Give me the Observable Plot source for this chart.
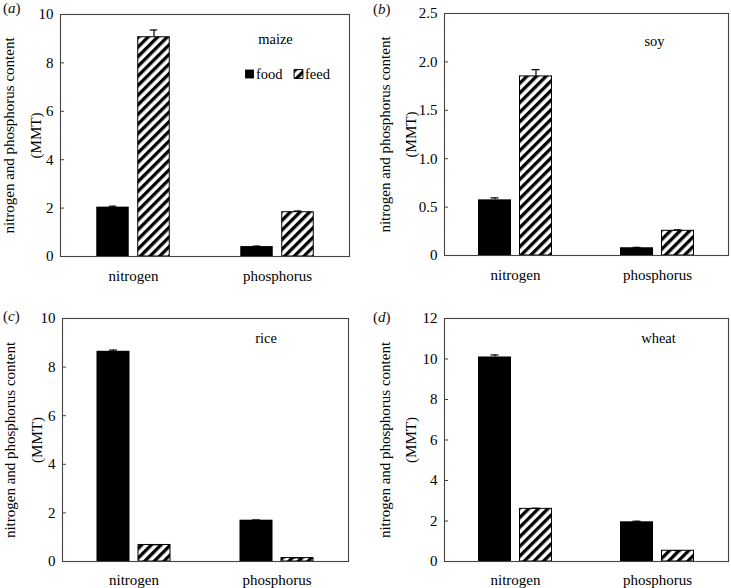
<!DOCTYPE html>
<html><head><meta charset="utf-8">
<script src="https://cdn.jsdelivr.net/npm/d3@7"></script>
<script src="https://cdn.jsdelivr.net/npm/@observablehq/plot@0.6"></script>
<style>
body{margin:0;background:#fff;}
#root{position:relative;width:731px;height:588px;font-family:"Liberation Serif",serif;color:#000;}
#root svg{position:absolute;font-family:"Liberation Serif",serif !important;}
#root svg text{font-family:"Liberation Serif",serif;}
.tag{position:absolute;font-size:15px;line-height:1;color:#111;font-family:"Liberation Serif",serif;}
</style></head><body><div id="root"></div>
<script>
// ---- data ----
const nutrients = ["nitrogen", "phosphorus"];
const uses = ["food", "feed"];
const crops = ["maize", "soy", "rice", "wheat"];
const tags = ["a", "b", "c", "d"];
const yTitle = "nitrogen and phosphorus content\n(MMT)";

const maizeFood = [2.04, 0.41];
const maizeFeed = [9.06, 1.83];
const maizeFoodErr = [0.04, 0.02];
const maizeFeedErr = [0.30, 0.05];

const soyFood = [0.575, 0.08];
const soyFeed = [1.85, 0.255];
const soyFoodErr = [0.02, 0.004];
const soyFeedErr = [0.07, 0.01];

const riceFood = [8.65, 1.70];
const riceFeed = [0.68, 0.14];
const riceFoodErr = [0.05, 0.01];
const riceFeedErr = [0.01, 0.01];

const wheatFood = [10.1, 1.96];
const wheatFeed = [2.6, 0.53];
const wheatFoodErr = [0.1, 0.03];
const wheatFeedErr = [0.03, 0.01];

const maizeTicks = [0, 2, 4, 6, 8, 10];
const soyTicks = [0, 0.5, 1.0, 1.5, 2.0, 2.5];
const riceTicks = [0, 2, 4, 6, 8, 10];
const wheatTicks = [0, 2, 4, 6, 8, 10, 12];

// ---- layout ----
const FONT = "'Liberation Serif', 'Times New Roman', serif";
const boxes = [
  {left: 0,   top: 0,   width: 365, height: 290, ml: 60, mr: 16, mt: 14, mb: 34, titleDx: -41.5, labelDy: 25, labelDx: -2, xPad: 14},
  {left: 370, top: 0,   width: 361, height: 290, ml: 74, mr: 3,  mt: 13, mb: 35, titleDx: -50, labelDy: 28, labelDx: -3, xPad: 14},
  {left: 0,   top: 290, width: 365, height: 298, ml: 62, mr: 17, mt: 28, mb: 27, titleDx: -42.5, labelDy: 20, labelDx: -11, xPad: 13},
  {left: 370, top: 290, width: 361, height: 298, ml: 74, mr: 3,  mt: 28, mb: 27, titleDx: -50, labelDy: 20, labelDx: 1, xPad: 13}
];
const tagPos = [{left: 3, top: 1}, {left: 373, top: 2}, {left: 3, top: 309}, {left: 373, top: 310}];

const panels = [
  {food: maizeFood, feed: maizeFeed, foodErr: maizeFoodErr, feedErr: maizeFeedErr, ticks: maizeTicks},
  {food: soyFood, feed: soyFeed, foodErr: soyFoodErr, feedErr: soyFeedErr, ticks: soyTicks},
  {food: riceFood, feed: riceFeed, foodErr: riceFoodErr, feedErr: riceFeedErr, ticks: riceTicks},
  {food: wheatFood, feed: wheatFeed, foodErr: wheatFoodErr, feedErr: wheatFeedErr, ticks: wheatTicks}
];

const root = document.getElementById("root");
const BW = 33, GAP = 4, CAP = 4;

panels.forEach((p, k) => {
  const box = boxes[k];
  const crop = crops[k];
  const rows = [];
  nutrients.forEach((n, i) => {
    rows.push({nutrient: n, use: uses[0], value: p.food[i], err: p.foodErr[i]});
    rows.push({nutrient: n, use: uses[1], value: p.feed[i], err: p.feedErr[i]});
  });
  const foodRows = rows.filter(d => d.use === "food");
  const feedRows = rows.filter(d => d.use === "feed");
  const innerW = box.width - box.ml - box.mr;
  const h = innerW / nutrients.length / 2; // half band width
  const off = GAP + BW / 2;
  const hatchId = "hatch" + k;
  const fmt = d => d === 0 ? "0" : (p.ticks[p.ticks.length - 1] < 5 ? d.toFixed(1) : String(d));

  const marks = [
    Plot.barY(foodRows, {x: "nutrient", y: "value", fill: "#000", insetLeft: h - GAP - BW, insetRight: h + GAP}),
    Plot.barY(feedRows, {x: "nutrient", y: "value", fill: `url(#${hatchId})`, stroke: "#000", strokeWidth: 1, insetLeft: h + GAP + 0.5, insetRight: h - GAP - BW + 0.5}),
    Plot.ruleX(foodRows, {x: "nutrient", y1: "value", y2: d => d.value + d.err, dx: -off, stroke: "#000", strokeWidth: 1.2}),
    Plot.ruleX(feedRows, {x: "nutrient", y1: "value", y2: d => d.value + d.err, dx: off, stroke: "#000", strokeWidth: 1.2}),
    Plot.tickY(foodRows, {x: "nutrient", y: d => d.value + d.err, insetLeft: h - off - CAP, insetRight: h + off - CAP, stroke: "#000", strokeWidth: 1.2}),
    Plot.tickY(feedRows, {x: "nutrient", y: d => d.value + d.err, insetLeft: h + off - CAP, insetRight: h - off - CAP, stroke: "#000", strokeWidth: 1.2}),
    Plot.tickY(p.ticks, {y: d => d, insetRight: innerW - 4, stroke: "#444"}),
    Plot.frame({stroke: "#444", strokeWidth: 1.1}),
    Plot.axisY({ticks: p.ticks, tickSize: 0, tickPadding: 7, tickFormat: fmt, fontSize: 15, fontFamily: FONT, label: null}),
    Plot.axisX({tickSize: 0, tickPadding: box.xPad, fontSize: 15, fontFamily: FONT, label: null}),
    Plot.text([yTitle], {frameAnchor: "left", rotate: -90, dx: box.titleDx, lineHeight: 1.75, fontSize: 15, fontFamily: FONT, textAnchor: "middle", lineAnchor: "middle"}),
    Plot.text([crop], {x: () => "phosphorus", frameAnchor: "top", dy: box.labelDy, dx: box.labelDx, fontSize: 14.5, fontFamily: FONT, lineAnchor: "middle"})
  ];
  if (k === 0) {
    // legend
    const legendDx = [184.5, 233.5];
    uses.forEach((u, j) => {
      marks.push(Plot.dot([u], {frameAnchor: "top-left", dx: legendDx[j] + 4.5, dy: 59.5, symbol: "square", r: 5.0,
        fill: u === "food" ? "#000" : `url(#${hatchId})`, stroke: u === "food" ? "none" : "#000", strokeWidth: 1}));
      marks.push(Plot.text([u], {frameAnchor: "top-left", dx: legendDx[j] + 11, dy: 59.5, textAnchor: "start", lineAnchor: "middle", fontSize: 14.5, fontFamily: FONT}));
    });
  }

  const svg = Plot.plot({
    width: box.width, height: box.height,
    marginLeft: box.ml, marginRight: box.mr, marginTop: box.mt, marginBottom: box.mb,
    x: {type: "band", domain: nutrients, padding: 0, label: null},
    y: {domain: [0, p.ticks[p.ticks.length - 1]], label: null},
    style: {fontFamily: FONT, fontSize: "15px", color: "#000", background: "transparent", overflow: "visible"},
    marks
  });
  svg.setAttribute("font-family", FONT);
  const defs = d3.select(svg).insert("defs", ":first-child");
  const pat = defs.append("pattern").attr("id", hatchId).attr("patternUnits", "userSpaceOnUse")
    .attr("width", 6.8).attr("height", 6.8).attr("patternTransform", "rotate(45)");
  pat.append("rect").attr("width", 6.8).attr("height", 6.8).attr("fill", "#fff");
  pat.append("rect").attr("width", 3.3).attr("height", 6.8).attr("fill", "#000");
  svg.style.left = box.left + "px";
  svg.style.top = box.top + "px";
  root.appendChild(svg);

  const tag = document.createElement("div");
  tag.className = "tag";
  tag.style.left = tagPos[k].left + "px";
  tag.style.top = tagPos[k].top + "px";
  tag.innerHTML = "(<i>" + tags[k] + "</i>)";
  root.appendChild(tag);
});
</script></body></html>
